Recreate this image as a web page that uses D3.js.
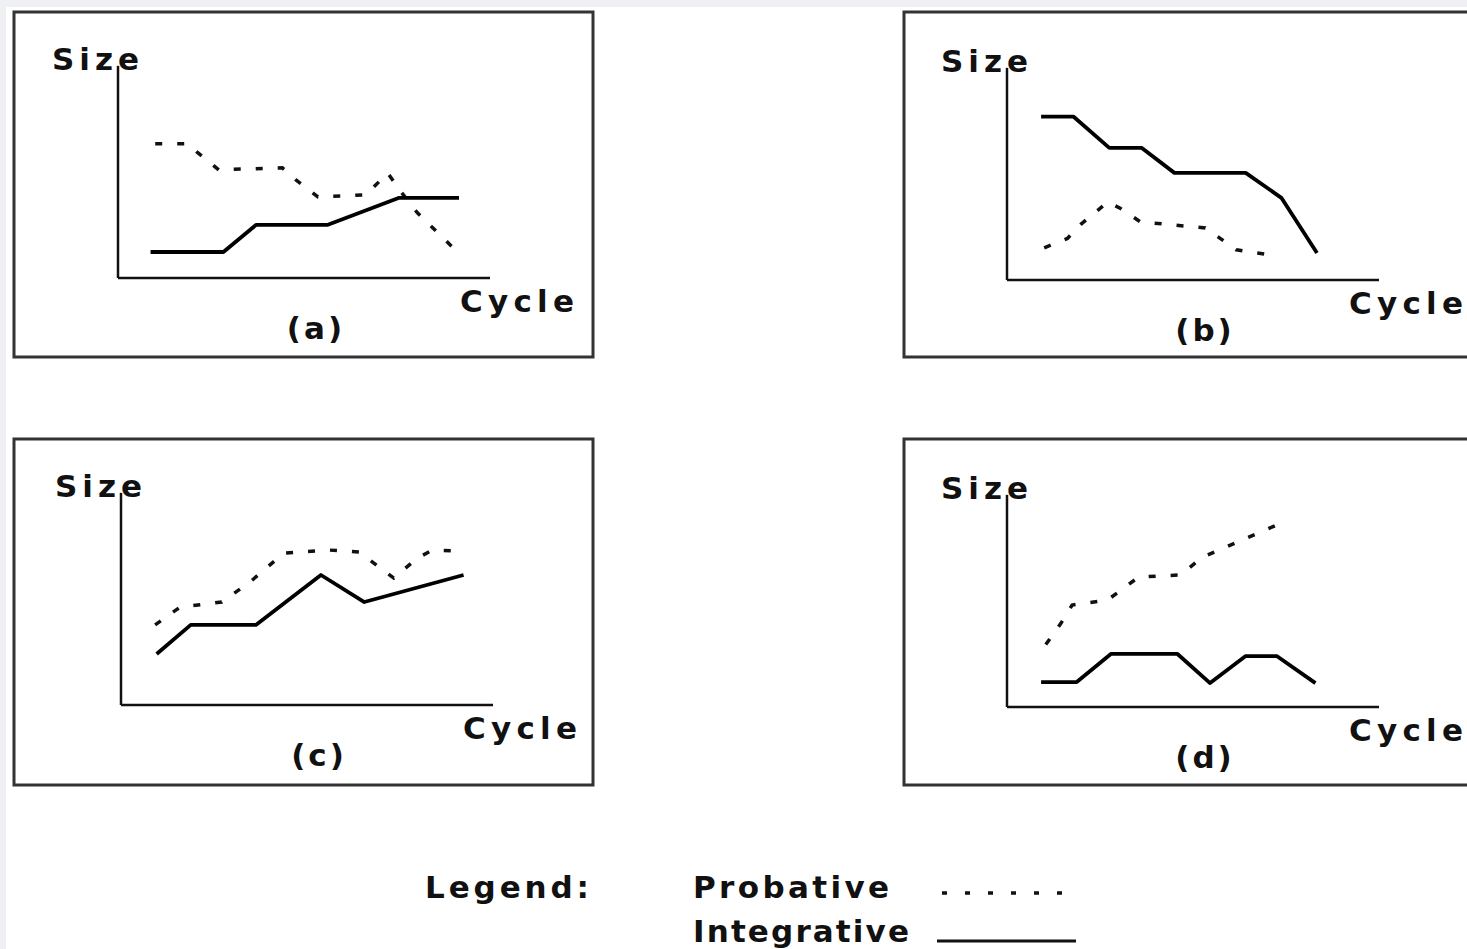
<!DOCTYPE html>
<html>
<head>
<meta charset="utf-8">
<script src="https://cdn.jsdelivr.net/npm/d3@7"></script>
<style>
  html, body { margin: 0; padding: 0; background: #fff; }
  svg { display: block; }
  .lbl { font-family: "DejaVu Sans", sans-serif; font-weight: bold; font-size: 31px; fill: #111; letter-spacing: 5px; }
</style>
</head>
<body>
<svg id="chart" width="1467" height="949"></svg>
<script>
// panel names
const panels = ["(a)", "(b)", "(c)", "(d)"];

// [cycle, size] pairs, cycle 0..12, size 0..10
const integrativeA = [[1.05,1.25],[3.4,1.25],[4.45,2.55],[6.75,2.55],[9.05,3.85],[11,3.85]];
const probativeA = [[1.2,6.45],[2.25,6.45],[2.55,6.05],[3.25,5.2],[5.3,5.3],[5.75,4.7],[6.45,3.9],[8.0,4.0],[8.7,5.05],[9.15,4.1],[9.65,3.15],[10.95,1.25]];

const integrativeB = [[1.1,7.85],[2.15,7.85],[3.3,6.35],[4.35,6.35],[5.4,5.15],[7.7,5.15],[8.85,3.95],[10.0,1.3]];
const probativeB = [[1.2,1.55],[1.95,2.0],[2.4,2.7],[3.25,3.75],[3.65,3.45],[4.3,2.8],[6.4,2.5],[7.4,1.45],[8.75,1.15]];

const integrativeC = [[1.15,2.45],[2.25,3.85],[4.35,3.85],[6.45,6.25],[7.85,4.95],[11.05,6.25]];
const probativeC = [[1.1,3.85],[1.9,4.7],[3.25,4.95],[4.15,5.9],[5.25,7.3],[6.7,7.45],[7.7,7.35],[7.95,7.05],[8.8,6.1],[9.55,7.05],[10.05,7.45],[10.8,7.4]];

const integrativeD = [[1.1,1.2],[2.25,1.2],[3.35,2.55],[5.5,2.55],[6.55,1.15],[7.7,2.45],[8.7,2.45],[9.95,1.15]];
const probativeD = [[1.25,3.0],[1.75,4.05],[2.1,4.9],[3.25,5.15],[4.25,6.25],[5.6,6.35],[6.3,7.2],[8.7,8.75]];

const integrativeAll = [integrativeA, integrativeB, integrativeC, integrativeD];
const probativeAll = [probativeA, probativeB, probativeC, probativeD];

const legendItems = ["Probative", "Integrative"];
const legendWidths = [196, 216];

const svg = d3.select("#chart");

// light grey edge of the scanned page
svg.append("rect").attr("x", 0).attr("y", 0).attr("width", 1467).attr("height", 949).attr("fill", "#eef0f4");
svg.append("rect").attr("x", 6).attr("y", 7).attr("width", 1461).attr("height", 942).attr("fill", "#fff");

// box for each panel
const boxes = [
  { x: 14, y: 12, w: 579, h: 345 },
  { x: 904, y: 12, w: 580, h: 345 },
  { x: 14, y: 439, w: 579, h: 346 },
  { x: 904, y: 439, w: 580, h: 346 }
];
// axis origin inside each box (offset from box corner)
const axisOrigin = [[104, 266], [103, 268], [107, 266], [103, 268]];
const axisW = 372, axisH = 208;

boxes.forEach((b, i) => {
  const g = svg.append("g").attr("transform", "translate(" + b.x + "," + b.y + ")");

  g.append("rect")
    .attr("width", b.w).attr("height", b.h)
    .attr("fill", "#fff")
    .attr("stroke", "#333").attr("stroke-width", 3);

  const ox = axisOrigin[i][0], oy = axisOrigin[i][1];
  const x = d3.scaleLinear().domain([0, 12]).range([ox, ox + axisW]);
  const y = d3.scaleLinear().domain([0, 10]).range([oy, oy - axisH]);

  g.append("text").attr("class", "lbl").attr("x", ox - 66).attr("y", oy - 208).text("Size");

  // axes
  g.append("line").attr("x1", x(0)).attr("y1", y(0)).attr("x2", x(0)).attr("y2", y(10.2))
    .attr("stroke", "#111").attr("stroke-width", 2.5);
  g.append("line").attr("x1", x(0)).attr("y1", y(0)).attr("x2", x(12)).attr("y2", y(0))
    .attr("stroke", "#111").attr("stroke-width", 2.5);

  g.append("text").attr("class", "lbl").attr("x", ox + 342).attr("y", oy + 34)
    .style("letter-spacing", "0px")
    .attr("textLength", 114).attr("lengthAdjust", "spacing")
    .text("Cycle");
  g.append("text").attr("class", "lbl").attr("x", ox + 198).attr("y", oy + 61)
    .attr("text-anchor", "middle").style("letter-spacing", "3px").text(panels[i]);

  const line = d3.line().x(d => x(d[0])).y(d => y(d[1]));

  g.append("path").datum(probativeAll[i])
    .attr("d", line)
    .attr("fill", "none").attr("stroke", "#111")
    .attr("stroke-width", 3.5)
    .attr("stroke-dasharray", "7,15");

  g.append("path").datum(integrativeAll[i])
    .attr("d", line)
    .attr("fill", "none").attr("stroke", "#000")
    .attr("stroke-width", 3.8)
    .attr("stroke-linejoin", "round");
});

// legend
svg.append("text").attr("class", "lbl").attr("x", 425).attr("y", 898)
  .style("letter-spacing", "0px")
  .attr("textLength", 164).attr("lengthAdjust", "spacing")
  .text("Legend:");
svg.selectAll(".legtext").data(legendItems).enter().append("text")
  .attr("class", "lbl legtext")
  .attr("x", 693)
  .attr("y", (d, i) => 898 + i * 44)
  .style("letter-spacing", "0px")
  .attr("textLength", (d, i) => legendWidths[i]).attr("lengthAdjust", "spacing")
  .text(d => d);

svg.append("line").attr("x1", 942).attr("y1", 893).attr("x2", 1076).attr("y2", 893)
  .attr("stroke", "#111").attr("stroke-width", 3.5).attr("stroke-dasharray", "5,18");
svg.append("line").attr("x1", 937).attr("y1", 941).attr("x2", 1076).attr("y2", 941)
  .attr("stroke", "#111").attr("stroke-width", 3);
</script>
</body>
</html>
